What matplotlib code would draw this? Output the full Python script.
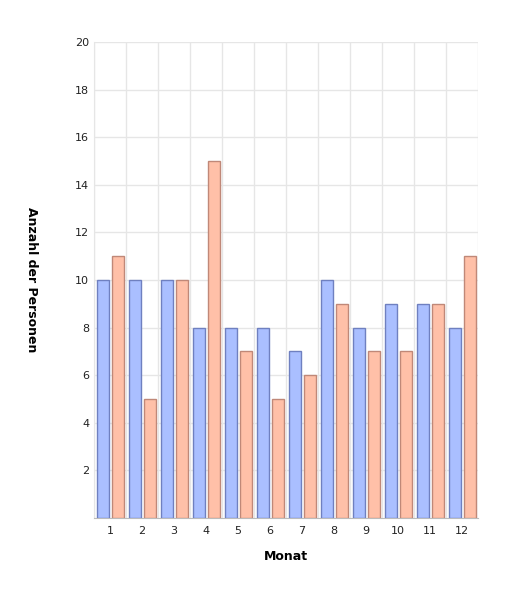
import matplotlib
matplotlib.use("Agg")
import matplotlib.pyplot as plt
import numpy as np

months = ["1", "2", "3", "4", "5", "6", "7", "8", "9", "10", "11", "12"]
blue_vals = [10, 10, 10, 8, 8, 8, 7, 10, 8, 9, 9, 8]
orange_vals = [11, 5, 10, 15, 7, 5, 6, 9, 7, 7, 9, 11]

fig = plt.figure(figsize=(5.18, 5.94), dpi=100)
ax = fig.add_axes([0.1815, 0.1279, 0.7413, 0.8014])

x = np.arange(len(months))
w = 12 / 32
ax.bar(x - 0.5 * w - 1.5 / 32, blue_vals, width=w, color="#aabfff", edgecolor="#6f80c0", linewidth=1, zorder=3)
ax.bar(x + 0.5 * w + 1.5 / 32, orange_vals, width=w, color="#ffc0a8", edgecolor="#c08878", linewidth=1, zorder=3)

ax.set_xlim(-0.5, len(months) - 0.5)
ax.set_ylim(0, 20)
ax.set_yticks(range(2, 21, 2))
ax.set_xticks(x)
ax.set_xticklabels(months)
ax.set_xticks(np.arange(-0.5, len(months)), minor=True)
ax.grid(True, which="minor", axis="x", color="#e6e6e6", linewidth=1, zorder=0)
ax.grid(True, which="major", axis="y", color="#e6e6e6", linewidth=1, zorder=0)
ax.tick_params(axis="both", which="both", length=0, labelsize=8, colors="#222222")
ax.tick_params(axis="x", pad=6)
for s in ["top", "right"]:
    ax.spines[s].set_visible(False)
ax.spines["left"].set_color("#e6e6e6")
ax.spines["bottom"].set_color("#bbbbbb")

ax.set_xlabel("Monat", fontsize=9, fontweight="bold", labelpad=10)
ax.set_ylabel("Anzahl der Personen", fontsize=9, fontweight="bold", labelpad=36, rotation=270, va="bottom")

fig.savefig("out.png", dpi=100)
